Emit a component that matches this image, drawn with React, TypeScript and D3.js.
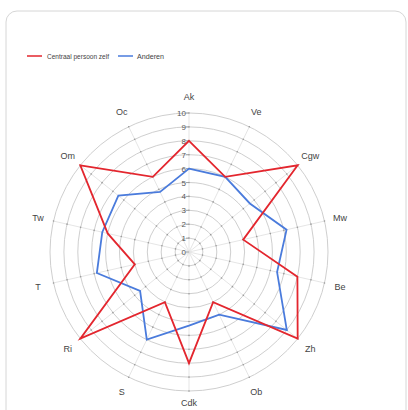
import React from 'react';
import * as d3 from 'd3';

const categories = ['Ak', 'Ve', 'Cgw', 'Mw', 'Be', 'Zh', 'Ob', 'Cdk', 'S', 'Ri', 'T', 'Tw', 'Om', 'Oc'];
const zelf = [8, 6, 10, 4, 8, 10, 4, 8, 4, 10, 4, 6, 10, 6];
const anderen = [6, 6, 5.6, 7.2, 6.5, 9, 5, 5.3, 7, 4.5, 6.8, 6.4, 6.5, 4.8];
const ticks = [0, 1, 2, 3, 4, 5, 6, 7, 8, 9, 10];
const seriesNames = ['Centraal persoon zelf', 'Anderen'];
const colors = ['#e3262e', '#4a7bdc'];

const W = 408;
const H = 410;
const cx = 189;
const cy = 252;
const R = 139;

export default function App() {
  const r = d3.scaleLinear().domain([0, 10]).range([0, R]);
  const angle = d3.scaleLinear().domain([0, categories.length]).range([0, Math.PI * 2]);
  const pt = (i: number, v: number): [number, number] => [
    cx + r(v) * Math.sin(angle(i)),
    cy - r(v) * Math.cos(angle(i)),
  ];

  const line = d3.lineRadial<number>()
    .angle((d, i) => angle(i))
    .radius(d => r(d))
    .curve(d3.curveLinearClosed);

  const font = '"Liberation Sans", Arial, sans-serif';

  return (
    <svg width={W} height={H} style={{ position: 'fixed', left: 0, top: 0, background: '#fff' }}>
      <rect x={6} y={11} width={400} height={420} rx={11} fill="#fff" stroke="#d6d6d6" strokeWidth={1} />

      {/* legend */}
      <g fontFamily={font} fontSize={7.5} fill="#444">
        <line x1={27} x2={42} y1={56} y2={56} stroke={colors[0]} strokeWidth={1.5} />
        <text x={47} y={58.5} textLength={62} lengthAdjust="spacingAndGlyphs">{seriesNames[0]}</text>
        <line x1={118} x2={133} y1={56} y2={56} stroke={colors[1]} strokeWidth={1.5} />
        <text x={137} y={58.5} textLength={27} lengthAdjust="spacingAndGlyphs">{seriesNames[1]}</text>
      </g>

      {/* rings */}
      {ticks.slice(1).map(t => (
        <circle key={t} cx={cx} cy={cy} r={r(t)} fill="none" stroke="#cfcfcf" strokeWidth={1} />
      ))}

      {/* spokes */}
      {categories.map((c, i) => {
        const [x2, y2] = pt(i, 10);
        return <line key={c} x1={cx} y1={cy} x2={x2} y2={y2} stroke="#dedede" strokeWidth={0.8} />;
      })}

      {/* spoke dots */}
      {categories.map((c, i) =>
        ticks.slice(1).map(t => {
          const [x, y] = pt(i, t);
          return <circle key={c + t} cx={x} cy={y} r={0.8} fill="#999" />;
        })
      )}

      {/* radial tick labels */}
      <g fontFamily={font} fontSize={8} fill="#555" textAnchor="end">
        {ticks.map(t => (
          <g key={t}>
            <line x1={cx - 3} x2={cx} y1={cy - r(t)} y2={cy - r(t)} stroke="#999" strokeWidth={0.8} />
            <text x={cx - 3} y={cy - r(t) + 3}>{t}</text>
          </g>
        ))}
      </g>

      {/* category labels */}
      <g fontFamily={font} fontSize={9} fill="#444" textAnchor="middle">
        {categories.map((c, i) => {
          const a = angle(i);
          const x = cx + 155 * Math.sin(a);
          const y = Math.min(cy - 155 * Math.cos(a), 403);
          return (
            <text key={c} x={x} y={y} dy="0.35em">{c}</text>
          );
        })}
      </g>

      {/* series */}
      <g transform={`translate(${cx},${cy})`}>
        <path d={line(anderen) || ''} fill="none" stroke={colors[1]} strokeWidth={1.8} />
        <path d={line(zelf) || ''} fill="none" stroke={colors[0]} strokeWidth={1.8} />
      </g>
    </svg>
  );
}
